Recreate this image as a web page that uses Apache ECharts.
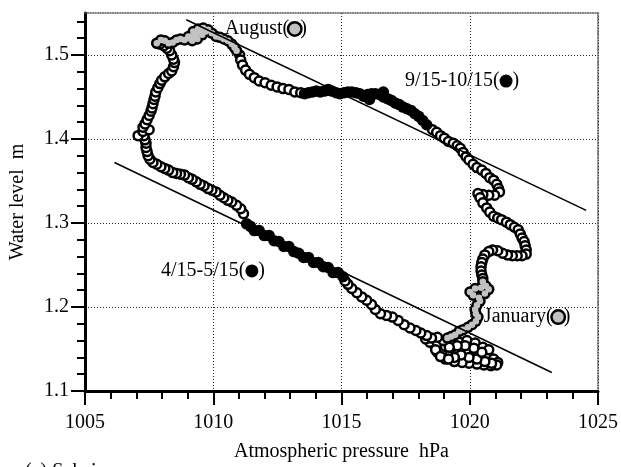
<!DOCTYPE html>
<html>
<head>
<meta charset="utf-8">
<script src="https://cdn.jsdelivr.net/npm/echarts@6/dist/echarts.min.js"></script>
<style>
  html, body { margin: 0; padding: 0; background: #fff; }
  #chart { width: 621px; height: 467px; }
</style>
</head>
<body>
<div id="chart"></div>
<script>
// Daily water level (m) against atmospheric pressure (hPa), grouped by period.
// Each entry is [pressure, waterLevel].

// January
const january = [
  [1020.51,1.230],[1020.63,1.225],[1020.74,1.221],[1020.59,1.216],[1020.44,1.223],
  [1020.21,1.222],[1020.01,1.218],[1020.13,1.214],[1020.36,1.211],[1020.40,1.207],
  [1020.28,1.202],[1020.21,1.197],[1020.24,1.192],[1020.32,1.188],[1020.24,1.183],
  [1020.09,1.179],[1019.93,1.176],[1019.74,1.173],[1019.59,1.171],[1019.43,1.167],
  [1019.28,1.165],[1019.13,1.163]
];

// February to mid April
const febToApr = [
  [1018.97,1.157],[1018.82,1.152],[1019.01,1.147],[1019.28,1.144],[1019.51,1.150],
  [1019.78,1.152],[1020.05,1.147],[1020.36,1.144],[1020.66,1.140],[1020.93,1.138],
  [1021.09,1.134],[1021.05,1.131],[1020.82,1.130],[1020.55,1.131],[1020.28,1.132],
  [1019.97,1.133],[1019.70,1.134],[1019.40,1.135],[1019.05,1.138],[1018.74,1.146],
  [1018.63,1.154],[1018.44,1.158],[1018.28,1.162],[1019.24,1.146],[1019.55,1.144],
  [1019.86,1.145],[1020.85,1.133],[1020.59,1.135],[1020.28,1.138],[1019.97,1.140],
  [1019.66,1.143],[1019.40,1.140],[1019.13,1.143],[1018.90,1.146],[1018.74,1.157],
  [1018.67,1.149],[1018.86,1.141],[1019.17,1.138],[1019.05,1.153],[1019.32,1.157],
  [1019.59,1.158],[1019.89,1.160],[1020.21,1.157],[1020.51,1.152],[1020.74,1.149],
  [1020.47,1.146],[1020.16,1.151],[1019.82,1.154],[1019.51,1.154],[1019.20,1.152],
  [1018.97,1.160],[1018.74,1.164],[1018.51,1.163],[1018.32,1.166],[1018.09,1.169],
  [1017.90,1.172],[1017.67,1.175],[1017.44,1.179],[1017.21,1.184],[1016.98,1.188],
  [1016.75,1.190],[1016.52,1.192],[1016.32,1.197],[1016.17,1.203],[1015.98,1.208],
  [1015.79,1.212],[1015.60,1.217],[1015.40,1.222],[1015.25,1.227],[1015.14,1.231]
];

// 4/15 - 5/15
const aprToMay = [
  [1015.06,1.236],[1014.87,1.241],[1014.67,1.241],[1014.48,1.247],[1014.29,1.248],
  [1014.10,1.253],[1013.91,1.253],[1013.71,1.259],[1013.52,1.259],[1013.33,1.264],
  [1013.14,1.266],[1012.95,1.272],[1012.75,1.272],[1012.56,1.278],[1012.37,1.279],
  [1012.18,1.285],[1011.99,1.285],[1011.79,1.291],[1011.60,1.291],[1011.45,1.296],
  [1011.30,1.299]
];

// mid May to July
const mayToJul = [
  [1011.18,1.311],[1011.07,1.317],[1010.91,1.321],[1010.72,1.325],[1010.57,1.327],
  [1010.41,1.330],[1010.26,1.333],[1010.11,1.337],[1009.95,1.339],[1009.80,1.341],
  [1009.64,1.344],[1009.49,1.346],[1009.34,1.349],[1009.18,1.352],[1009.03,1.354],
  [1008.88,1.357],[1008.72,1.358],[1008.57,1.359],[1008.42,1.360],[1008.26,1.363],
  [1008.11,1.365],[1007.96,1.367],[1007.80,1.370],[1007.65,1.372],[1007.53,1.376],
  [1007.46,1.380],[1007.42,1.385],[1007.38,1.390],[1007.38,1.395],[1007.34,1.399],
  [1007.30,1.404],[1007.07,1.404],[1007.26,1.409],[1007.50,1.411],[1007.26,1.414],
  [1007.34,1.418],[1007.42,1.423],[1007.50,1.428],[1007.57,1.433],[1007.61,1.437],
  [1007.65,1.442],[1007.69,1.447],[1007.73,1.451],[1007.76,1.456],[1007.84,1.461],
  [1007.92,1.466],[1007.99,1.470],[1008.11,1.474],[1008.26,1.478],[1008.38,1.481],
  [1008.45,1.486],[1008.49,1.491],[1008.45,1.495],[1008.38,1.500],[1008.30,1.505],
  [1008.19,1.508],[1008.07,1.511],[1007.92,1.513],[1007.80,1.514]
];

// August
const august = [
  [1007.80,1.514],[1007.96,1.518],[1008.11,1.517],[1008.26,1.514],[1008.42,1.515],
  [1008.57,1.518],[1008.72,1.519],[1008.88,1.518],[1009.03,1.520],[1009.18,1.522],
  [1009.34,1.525],[1009.49,1.527],[1009.61,1.531],[1009.72,1.528],[1009.57,1.524],
  [1009.38,1.519],[1009.18,1.517],[1009.03,1.522],[1009.22,1.528],[1009.41,1.531],
  [1009.61,1.532],[1009.80,1.530],[1009.95,1.526],[1010.11,1.522],[1010.26,1.521],
  [1010.41,1.519],[1010.57,1.517],[1010.72,1.513],[1010.83,1.509],[1010.91,1.505]
];

// early September
const earlySep = [
  [1011.03,1.500],[1011.07,1.494],[1011.14,1.488],[1011.26,1.482],[1011.41,1.477],
  [1011.60,1.473],[1011.79,1.469],[1012.02,1.467],[1012.26,1.464],[1012.49,1.462],
  [1012.72,1.460],[1012.95,1.459],[1013.18,1.456],[1013.41,1.455]
];

// 9/15 - 10/15
const sepToOct = [
  [1013.56,1.454],[1013.71,1.455],[1013.87,1.456],[1014.02,1.457],[1014.17,1.456],
  [1014.33,1.457],[1014.48,1.459],[1014.63,1.457],[1014.79,1.455],[1014.94,1.454],
  [1015.10,1.455],[1015.25,1.456],[1015.40,1.456],[1015.56,1.455],[1015.71,1.454],
  [1015.86,1.451],[1016.02,1.453],[1016.09,1.447],[1016.17,1.454],[1016.32,1.454],
  [1016.48,1.453],[1016.63,1.456],[1016.63,1.450],[1016.79,1.448],[1016.94,1.446],
  [1017.09,1.443],[1017.25,1.441],[1017.40,1.438],[1017.55,1.436],[1017.71,1.434],
  [1017.86,1.430],[1018.01,1.427],[1018.17,1.422],[1018.32,1.417]
];

// mid October to December
const octToDec = [
  [1018.55,1.411],[1018.71,1.408],[1018.86,1.404],[1019.01,1.401],[1019.17,1.397],
  [1019.36,1.395],[1019.51,1.392],[1019.63,1.389],[1019.74,1.384],[1019.86,1.379],
  [1019.97,1.375],[1020.13,1.370],[1020.28,1.366],[1020.47,1.363],[1020.63,1.359],
  [1020.78,1.354],[1020.93,1.351],[1021.05,1.346],[1021.12,1.341],[1021.16,1.337],
  [1020.97,1.333],[1020.74,1.333],[1020.51,1.334],[1020.32,1.335],[1020.40,1.330],
  [1020.51,1.324],[1020.66,1.318],[1020.78,1.313],[1020.93,1.308],[1021.09,1.306],
  [1021.24,1.304],[1021.43,1.301],[1021.58,1.298],[1021.74,1.295],[1021.89,1.292],
  [1021.97,1.287],[1022.04,1.282],[1022.12,1.278],[1022.16,1.273],[1022.20,1.268],
  [1022.20,1.263],[1022.04,1.261],[1021.85,1.261],[1021.66,1.261],[1021.47,1.262],
  [1021.28,1.264],[1021.09,1.267],[1020.89,1.268],[1020.74,1.266],[1020.59,1.262],
  [1020.51,1.257],[1020.47,1.253],[1020.44,1.248],[1020.44,1.243],[1020.47,1.238],
  [1020.51,1.234]
];

// Reference lines
const upperLine = [[1008.95,1.542],[1024.54,1.315]];
const lowerLine = [[1006.15,1.372],[1023.20,1.122]];

// Axis ticks
const xRange = [1005, 1025];
const xStep = 5;
const yRange = [1.1, 1.55];
const yMajorTicks = [1.1, 1.2, 1.3, 1.4, 1.5];
const yMinorStep = 0.02;

// Period notes: text and anchor [pressure, level] (left edge, vertical middle)
const notes = [
  { text: 'August({g|\u00a0})',      at: [1010.45, 1.531] },
  { text: '9/15-10/15({b|\u00a0})',  at: [1017.48, 1.469] },
  { text: '4/15-5/15({b|\u00a0})',   at: [1007.96, 1.243] },
  { text: 'January({g|\u00a0})',     at: [1020.55, 1.188] }
];

const yMinorTicks = [];
for (let i = 1; ; i++) {
  const v = Math.round((yRange[0] + i * yMinorStep) * 1000) / 1000;
  if (v >= yRange[1]) break;
  if (Math.abs(Math.round(v * 10) - v * 10) > 1e-6) yMinorTicks.push(v);
}

const FONT = "'Liberation Serif', 'DejaVu Serif', serif";
const openDays = [].concat(febToApr, mayToJul, earlySep, octToDec);
const grayDays = [].concat(january, august);

const chart = echarts.init(document.getElementById('chart'), null, { renderer: 'canvas' });

const frameLine = { show: true, lineStyle: { color: '#555', width: 1.5, type: [1, 1.5] } };
const gridLine = { show: true, lineStyle: { color: '#222', width: 1, type: [1, 2] } };

chart.setOption({
  animation: false,
  backgroundColor: '#fff',
  textStyle: { fontFamily: FONT, color: '#000' },
  grid: { left: 80, right: 20, top: 13, bottom: 73, containLabel: false },
  xAxis: [
    {
      type: 'value', position: 'bottom', min: xRange[0], max: xRange[1], interval: xStep,
      name: 'Atmospheric pressure  hPa', nameLocation: 'middle', nameGap: 51,
      nameTextStyle: { fontFamily: FONT, fontSize: 20, color: '#000' },
      axisLine: { show: true, onZero: false, lineStyle: { color: '#000', width: 3 } },
      axisTick: { show: true, length: 14, lineStyle: { color: '#000', width: 2 } },
      minorTick: { show: true, splitNumber: 5, length: 8, lineStyle: { color: '#000', width: 2 } },
      axisLabel: { margin: 22, fontFamily: FONT, fontSize: 20, color: '#000', formatter: v => String(v) },
      splitLine: gridLine
    },
    {
      type: 'value', position: 'top', min: xRange[0], max: xRange[1], interval: xStep,
      axisLine: Object.assign({ onZero: false }, frameLine),
      axisTick: { show: false }, axisLabel: { show: false }, splitLine: { show: false }
    }
  ],
  yAxis: [
    {
      type: 'value', position: 'left', min: yRange[0], max: yRange[1], interval: 0.1,
      name: 'Water level  m', nameLocation: 'middle', nameGap: 57,
      nameTextStyle: { fontFamily: FONT, fontSize: 20, color: '#000' },
      axisLine: { show: true, onZero: false, lineStyle: { color: '#000', width: 3 } },
      axisTick: { show: true, length: 14, customValues: yMajorTicks, lineStyle: { color: '#000', width: 2 } },
      axisLabel: {
        margin: 16, fontFamily: FONT, fontSize: 20, color: '#000',
        customValues: yMajorTicks, formatter: v => v.toFixed(1)
      },
      splitLine: gridLine
    },
    {
      type: 'value', position: 'left', min: yRange[0], max: yRange[1],
      axisLine: { show: false, onZero: false },
      axisTick: { show: true, length: 8, customValues: yMinorTicks, lineStyle: { color: '#000', width: 2 } },
      axisLabel: { show: false }, splitLine: { show: false }
    },
    {
      type: 'value', position: 'right', min: yRange[0], max: yRange[1],
      axisLine: Object.assign({ onZero: false }, frameLine),
      axisTick: { show: false }, axisLabel: { show: false }, splitLine: { show: false }
    }
  ],
  series: [
    {
      name: 'Other days', type: 'scatter', data: openDays, symbol: 'circle', symbolSize: 9,
      itemStyle: { color: '#fff', borderColor: '#000', borderWidth: 2.5, opacity: 1 }, z: 2
    },
    {
      name: '4/15-5/15', type: 'scatter', data: aprToMay, symbol: 'circle', symbolSize: 11.5,
      itemStyle: { color: '#000', opacity: 1 }, z: 3
    },
    {
      name: '9/15-10/15', type: 'scatter', data: sepToOct, symbol: 'circle', symbolSize: 11.5,
      itemStyle: { color: '#000', opacity: 1 }, z: 3
    },
    {
      name: 'January / August outline', type: 'scatter', data: grayDays, symbol: 'circle', symbolSize: 11.5,
      itemStyle: { color: '#000', opacity: 1 }, z: 4
    },
    {
      name: 'January / August', type: 'scatter', data: grayDays, symbol: 'circle', symbolSize: 6.5,
      itemStyle: { color: '#c2c2c2', opacity: 1 }, z: 5
    },
    {
      type: 'line', data: upperLine, symbol: 'none', lineStyle: { color: '#000', width: 1.5 }, z: 6
    },
    {
      type: 'line', data: lowerLine, symbol: 'none', lineStyle: { color: '#000', width: 1.5 }, z: 6
    }
  ]
});

// Period notes and the panel caption, placed in data coordinates
const noteRich = {
  g: { width: 11, height: 11, borderRadius: 7, backgroundColor: '#c2c2c2',
       borderColor: '#000', borderWidth: 2.5, fontSize: 1 },
  b: { width: 13, height: 13, borderRadius: 7, backgroundColor: '#000', fontSize: 1 }
};
const noteGraphics = notes.map(n => {
  const p = chart.convertToPixel({ xAxisIndex: 0, yAxisIndex: 0 }, n.at);
  return {
    type: 'text', x: p[0], y: p[1], z: 100,
    style: {
      text: n.text, fill: '#000', font: "20px 'Liberation Serif', serif",
      verticalAlign: 'middle', align: 'left', rich: noteRich
    }
  };
});
noteGraphics.push({
  type: 'text', left: 25, top: 462, z: 100,
  style: { text: '(a) Sakai', font: "20px 'Liberation Serif', serif", fill: '#000' }
});
chart.setOption({ graphic: noteGraphics });
</script>
</body>
</html>
